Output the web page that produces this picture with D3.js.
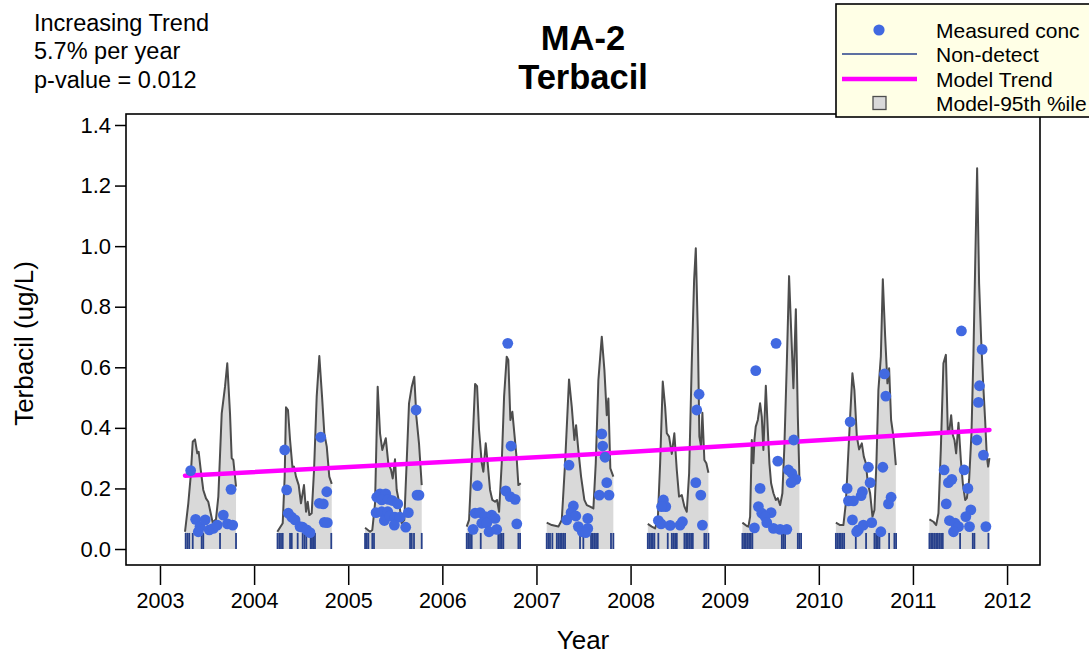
<!DOCTYPE html>
<html><head><meta charset="utf-8">
<script src="https://cdn.jsdelivr.net/npm/d3@7"></script>
<style>
body{margin:0;background:#fff;}
svg{display:block;font-family:"Liberation Sans",Arial,Helvetica,sans-serif;}
</style>
</head><body>
<svg id="chart" width="1089" height="656"></svg>
<script>
// ---------- DATA ----------
const titleLines = ["MA-2", "Terbacil"];
const statsLines = ["Increasing Trend", "5.7% per year", "p-value = 0.012"];
const xLabel = "Year";
const yLabel = "Terbacil (ug/L)";
const xTicks = [2003, 2004, 2005, 2006, 2007, 2008, 2009, 2010, 2011, 2012];
const yTicks = [0.0, 0.2, 0.4, 0.6, 0.8, 1.0, 1.2, 1.4];
const legendLabels = ["Measured conc", "Non-detect", "Model Trend", "Model-95th %ile"];

// Model 95th percentile, one array per sampling season: [decimal year, ug/L]
const p95_2003 = [[2003.266,0.057],[2003.301,0.151],[2003.326,0.239],[2003.348,0.354],[2003.372,0.362],[2003.396,0.316],[2003.411,0.321],[2003.433,0.261],[2003.460,0.195],[2003.489,0.167],[2003.513,0.156],[2003.539,0.118],[2003.560,0.087],[2003.595,0.098],[2003.620,0.173],[2003.656,0.448],[2003.691,0.536],[2003.715,0.613],[2003.744,0.448],[2003.762,0.300],[2003.779,0.294],[2003.808,0.206]];
const p95_2004 = [[2004.247,0.057],[2004.304,0.085],[2004.325,0.239],[2004.339,0.468],[2004.360,0.459],[2004.382,0.360],[2004.410,0.261],[2004.424,0.272],[2004.445,0.239],[2004.474,0.211],[2004.498,0.151],[2004.530,0.211],[2004.552,0.123],[2004.570,0.156],[2004.587,0.112],[2004.612,0.118],[2004.637,0.261],[2004.665,0.503],[2004.693,0.637],[2004.722,0.503],[2004.746,0.382],[2004.772,0.338],[2004.799,0.239],[2004.825,0.215]];
const p95_2005 = [[2005.179,0.070],[2005.232,0.057],[2005.256,0.063],[2005.285,0.151],[2005.313,0.536],[2005.338,0.382],[2005.362,0.327],[2005.399,0.366],[2005.426,0.283],[2005.455,0.261],[2005.473,0.233],[2005.497,0.296],[2005.515,0.195],[2005.540,0.156],[2005.569,0.085],[2005.596,0.096],[2005.622,0.294],[2005.646,0.481],[2005.675,0.536],[2005.702,0.569],[2005.724,0.437],[2005.752,0.349],[2005.781,0.211]];
const p95_2006 = [[2006.259,0.074],[2006.284,0.096],[2006.312,0.283],[2006.348,0.545],[2006.369,0.538],[2006.390,0.393],[2006.419,0.283],[2006.436,0.255],[2006.461,0.349],[2006.482,0.283],[2006.507,0.195],[2006.531,0.162],[2006.560,0.156],[2006.581,0.162],[2006.603,0.123],[2006.631,0.283],[2006.656,0.503],[2006.684,0.635],[2006.701,0.624],[2006.723,0.426],[2006.744,0.453],[2006.765,0.382],[2006.791,0.294],[2006.808,0.211],[2006.833,0.217]];
const p95_2007 = [[2007.109,0.087],[2007.163,0.079],[2007.233,0.074],[2007.269,0.096],[2007.304,0.283],[2007.346,0.560],[2007.375,0.470],[2007.403,0.360],[2007.421,0.409],[2007.445,0.327],[2007.474,0.239],[2007.509,0.162],[2007.535,0.145],[2007.570,0.140],[2007.605,0.134],[2007.630,0.283],[2007.658,0.558],[2007.694,0.701],[2007.722,0.591],[2007.747,0.442],[2007.764,0.497],[2007.785,0.266],[2007.817,0.239]];
const p95_2008 = [[2008.183,0.083],[2008.225,0.074],[2008.260,0.068],[2008.289,0.096],[2008.314,0.283],[2008.342,0.553],[2008.367,0.470],[2008.385,0.382],[2008.409,0.371],[2008.438,0.314],[2008.465,0.382],[2008.491,0.261],[2008.515,0.173],[2008.544,0.178],[2008.572,0.140],[2008.597,0.123],[2008.622,0.250],[2008.650,0.613],[2008.675,0.888],[2008.693,0.993],[2008.714,0.723],[2008.731,0.371],[2008.749,0.338],[2008.763,0.450],[2008.784,0.294],[2008.805,0.283],[2008.827,0.252]];
const p95_2009 = [[2009.188,0.087],[2009.235,0.076],[2009.252,0.074],[2009.270,0.107],[2009.288,0.360],[2009.305,0.283],[2009.316,0.360],[2009.330,0.404],[2009.352,0.426],[2009.376,0.481],[2009.394,0.437],[2009.411,0.327],[2009.437,0.539],[2009.458,0.393],[2009.475,0.283],[2009.493,0.217],[2009.518,0.184],[2009.543,0.162],[2009.564,0.168],[2009.589,0.145],[2009.613,0.184],[2009.634,0.338],[2009.660,0.613],[2009.684,0.901],[2009.706,0.723],[2009.730,0.531],[2009.756,0.792],[2009.777,0.437],[2009.794,0.233]];
const p95_2010 = [[2010.181,0.087],[2010.226,0.079],[2010.261,0.079],[2010.287,0.151],[2010.308,0.283],[2010.333,0.437],[2010.357,0.580],[2010.378,0.525],[2010.404,0.371],[2010.428,0.329],[2010.457,0.349],[2010.478,0.305],[2010.500,0.283],[2010.521,0.217],[2010.545,0.184],[2010.570,0.107],[2010.591,0.129],[2010.612,0.283],[2010.633,0.525],[2010.659,0.635],[2010.680,0.891],[2010.705,0.701],[2010.729,0.547],[2010.747,0.597],[2010.768,0.426],[2010.793,0.371],[2010.818,0.277]];
const p95_2011 = [[2011.175,0.098],[2011.218,0.090],[2011.247,0.079],[2011.271,0.118],[2011.296,0.327],[2011.324,0.613],[2011.350,0.641],[2011.371,0.382],[2011.388,0.393],[2011.406,0.442],[2011.424,0.376],[2011.441,0.360],[2011.459,0.316],[2011.484,0.417],[2011.509,0.294],[2011.530,0.217],[2011.555,0.162],[2011.573,0.168],[2011.597,0.228],[2011.622,0.382],[2011.643,0.646],[2011.661,0.932],[2011.682,1.257],[2011.703,0.877],[2011.725,0.690],[2011.746,0.547],[2011.767,0.426],[2011.785,0.305],[2011.799,0.272],[2011.813,0.300]];
const p95Seasons = [p95_2003, p95_2004, p95_2005, p95_2006, p95_2007, p95_2008, p95_2009, p95_2010, p95_2011];

// Measured concentrations: [decimal year, ug/L]
const measured = [
 [2003.326,0.259],[2003.379,0.098],[2003.425,0.074],[2003.407,0.057],[2003.481,0.096],[2003.524,0.063],[2003.566,0.068],[2003.609,0.079],[2003.673,0.112],[2003.717,0.083],[2003.773,0.079],[2003.755,0.197],
 [2004.325,0.327],[2004.346,0.195],[2004.363,0.118],[2004.400,0.105],[2004.435,0.096],[2004.488,0.074],[2004.516,0.072],[2004.559,0.063],[2004.594,0.054],[2004.708,0.369],[2004.693,0.151],[2004.735,0.149],[2004.772,0.189],[2004.746,0.088],[2004.778,0.087],
 [2005.303,0.171],[2005.338,0.182],[2005.399,0.182],[2005.356,0.162],[2005.426,0.164],[2005.469,0.160],[2005.526,0.149],[2005.296,0.120],[2005.356,0.123],[2005.420,0.123],[2005.384,0.094],[2005.444,0.109],[2005.497,0.105],[2005.550,0.105],[2005.490,0.079],[2005.639,0.120],[2005.611,0.072],[2005.721,0.459],[2005.752,0.178],[2005.731,0.178],
 [2006.695,0.679],[2006.730,0.340],[2006.372,0.209],[2006.674,0.192],[2006.720,0.173],[2006.773,0.164],[2006.791,0.083],[2006.348,0.118],[2006.401,0.120],[2006.454,0.107],[2006.525,0.112],[2006.560,0.101],[2006.419,0.085],[2006.472,0.085],[2006.327,0.065],[2006.496,0.057],[2006.578,0.065],
 [2007.346,0.277],[2007.694,0.380],[2007.704,0.340],[2007.729,0.303],[2007.747,0.219],[2007.668,0.178],[2007.771,0.178],[2007.392,0.142],[2007.368,0.120],[2007.418,0.109],[2007.322,0.096],[2007.545,0.101],[2007.445,0.074],[2007.487,0.057],[2007.545,0.068],[2007.524,0.054],
 [2008.728,0.511],[2008.703,0.459],[2008.693,0.219],[2008.746,0.178],[2008.763,0.079],[2008.349,0.162],[2008.374,0.140],[2008.329,0.140],[2008.295,0.094],[2008.324,0.083],[2008.420,0.078],[2008.526,0.079],[2008.551,0.090],
 [2009.330,0.589],[2009.546,0.679],[2009.564,0.290],[2009.734,0.360],[2009.677,0.261],[2009.713,0.250],[2009.756,0.230],[2009.706,0.219],[2009.376,0.200],[2009.358,0.140],[2009.394,0.118],[2009.493,0.120],[2009.430,0.107],[2009.447,0.087],[2009.518,0.068],[2009.589,0.065],[2009.660,0.065],[2009.316,0.070],
 [2010.333,0.420],[2010.697,0.578],[2010.712,0.505],[2010.527,0.270],[2010.680,0.270],[2010.545,0.219],[2010.463,0.189],[2010.449,0.176],[2010.301,0.200],[2010.315,0.159],[2010.368,0.159],[2010.768,0.171],[2010.740,0.149],[2010.357,0.096],[2010.420,0.063],[2010.473,0.079],[2010.562,0.087],[2010.659,0.057],[2010.402,0.057],
 [2011.515,0.720],[2011.735,0.659],[2011.707,0.539],[2011.696,0.484],[2011.679,0.360],[2011.749,0.310],[2011.331,0.261],[2011.377,0.219],[2011.413,0.230],[2011.544,0.261],[2011.584,0.200],[2011.354,0.149],[2011.615,0.129],[2011.562,0.107],[2011.388,0.094],[2011.448,0.085],[2011.484,0.074],[2011.601,0.074],[2011.431,0.057],[2011.775,0.074]
];

// Non-detect sample dates (decimal year) and reporting limit (ug/L)
const nonDetectDates = [
 2003.273,2003.292,2003.311,2003.348,2003.443,2003.460,2003.638,2003.808,
 2004.249,2004.268,2004.286,2004.304,2004.382,2004.400,2004.463,2004.516,2004.536,2004.555,2004.601,2004.615,2004.631,2004.647,2004.820,
 2005.179,2005.197,2005.214,2005.256,2005.274,2005.657,2005.675,2005.699,2005.781,
 2006.259,2006.276,2006.294,2006.312,2006.408,2006.595,2006.613,2006.631,2006.648,2006.808,2006.826,
 2007.109,2007.127,2007.144,2007.169,2007.216,2007.233,2007.251,2007.269,2007.286,2007.304,2007.463,2007.498,2007.580,2007.598,2007.615,2007.633,2007.651,2007.792,2007.817,
 2008.183,2008.200,2008.218,2008.236,2008.253,2008.295,2008.395,2008.438,2008.455,2008.473,2008.491,2008.572,2008.590,2008.608,2008.625,2008.643,2008.661,2008.784,2008.802,2008.827,
 2009.188,2009.206,2009.224,2009.241,2009.259,2009.277,2009.294,2009.607,2009.624,2009.642,2009.777,2009.794,2009.812,
 2010.181,2010.198,2010.216,2010.234,2010.251,2010.269,2010.393,2010.502,2010.591,2010.609,2010.627,2010.644,2010.747,2010.803,2010.821,
 2011.175,2011.193,2011.211,2011.228,2011.246,2011.264,2011.281,2011.299,2011.317,2011.501,2011.636,2011.653,2011.802
];
const nonDetectLimit = 0.053;

// Model trend: [decimal year, ug/L]
const trend = [[2003.266,0.242],[2007.540,0.312],[2011.813,0.393]];

// ---------- DRAW ----------
const svg = d3.select("#chart");
const W = 1089, H = 656;
const plot = {left: 126, right: 1040, top: 114, bottom: 565};

const x = d3.scaleLinear().domain([2002.639, 2012.350]).range([plot.left, plot.right]);
const y = d3.scaleLinear().domain([-0.0528, 1.4363]).range([plot.bottom, plot.top]);

svg.append("rect").attr("width", W).attr("height", H).attr("fill", "#fff");

// 95th percentile shaded area + line
const area = d3.area().x(d => x(d[0])).y0(y(0)).y1(d => y(d[1]));
const line = d3.line().x(d => x(d[0])).y(d => y(d[1]));
const gP = svg.append("g");
gP.selectAll("path.area").data(p95Seasons).join("path")
  .attr("class", "area").attr("d", area).attr("fill", "#d9d9d9").attr("stroke", "none");
gP.selectAll("path.line").data(p95Seasons).join("path")
  .attr("class", "line").attr("d", line).attr("fill", "none")
  .attr("stroke", "#4d4d4d").attr("stroke-width", 2).attr("stroke-linejoin", "round");

// Non-detects
svg.append("g").selectAll("line").data(nonDetectDates).join("line")
  .attr("x1", d => x(d)).attr("x2", d => x(d))
  .attr("y1", y(0)).attr("y2", y(nonDetectLimit))
  .attr("stroke", "#27408b").attr("stroke-width", 1.8);

// Trend
svg.append("path").datum(trend).attr("d", line)
  .attr("fill", "none").attr("stroke", "#ff00ff").attr("stroke-width", 4.5).attr("stroke-linecap", "round");

// Measured points
svg.append("g").selectAll("circle").data(measured).join("circle")
  .attr("cx", d => x(d[0])).attr("cy", d => y(d[1])).attr("r", 5.4)
  .attr("fill", "#4169e1");

// Plot box
svg.append("rect").attr("x", plot.left).attr("y", plot.top)
  .attr("width", plot.right - plot.left).attr("height", plot.bottom - plot.top)
  .attr("fill", "none").attr("stroke", "#000").attr("stroke-width", 1.6);

// Axes
const xAxis = d3.axisBottom(x).tickValues(xTicks).tickFormat(d3.format("d")).tickSize(19).tickPadding(8);
const gx = svg.append("g").attr("transform", `translate(0,${plot.bottom + 1})`).call(xAxis);
gx.select(".domain").remove();
gx.selectAll(".tick line").attr("stroke", "#000").attr("stroke-width", 1.5);
gx.selectAll(".tick text").attr("font-size", 21.5).attr("fill", "#000").attr("font-family", "Liberation Sans, Arial, sans-serif");

const yAxis = d3.axisLeft(y).tickValues(yTicks).tickFormat(d3.format(".1f")).tickSize(11).tickPadding(4);
const gy = svg.append("g").attr("transform", `translate(${plot.left},0)`).call(yAxis);
gy.select(".domain").remove();
gy.selectAll(".tick line").attr("stroke", "#000").attr("stroke-width", 1.5);
gy.selectAll(".tick text").attr("font-size", 22).attr("fill", "#000").attr("font-family", "Liberation Sans, Arial, sans-serif");

// Axis titles
svg.append("text").attr("x", (plot.left + plot.right) / 2).attr("y", 649)
  .attr("text-anchor", "middle").attr("font-size", 26).text(xLabel);
svg.append("text").attr("transform", `translate(33,${(plot.top + plot.bottom) / 2 + 4}) rotate(-90)`)
  .attr("text-anchor", "middle").attr("font-size", 26).text(yLabel);

// Title
svg.append("g").selectAll("text").data(titleLines).join("text")
  .attr("x", (plot.left + plot.right) / 2).attr("y", (d, i) => 50 + i * 39)
  .attr("text-anchor", "middle").attr("font-size", 34.5).attr("font-weight", "bold").text(d => d);

// Trend stats text
svg.append("g").selectAll("text").data(statsLines).join("text")
  .attr("x", 34).attr("y", (d, i) => 30.5 + i * 28.5)
  .attr("font-size", 23.5).text(d => d);

// Legend
const lg = svg.append("g");
lg.append("rect").attr("x", 836).attr("y", 4).attr("width", 300).attr("height", 113)
  .attr("fill", "#ffffe6").attr("stroke", "#000").attr("stroke-width", 1.6);
const rowY = [30, 54, 79, 103];
lg.selectAll("text").data(legendLabels).join("text")
  .attr("x", 936).attr("y", (d, i) => rowY[i] + 7.5).attr("font-size", 21).text(d => d);
lg.append("circle").attr("cx", 879).attr("cy", rowY[0]).attr("r", 5.6).attr("fill", "#4169e1");
lg.append("line").attr("x1", 842).attr("x2", 917).attr("y1", rowY[1]).attr("y2", rowY[1])
  .attr("stroke", "#27408b").attr("stroke-width", 1.5);
lg.append("line").attr("x1", 842).attr("x2", 917).attr("y1", rowY[2]).attr("y2", rowY[2])
  .attr("stroke", "#ff00ff").attr("stroke-width", 4.5);
lg.append("rect").attr("x", 873).attr("y", rowY[3] - 6.5).attr("width", 13).attr("height", 13)
  .attr("fill", "#d9d9d9").attr("stroke", "#4d4d4d").attr("stroke-width", 1.3);
</script>
</body></html>
